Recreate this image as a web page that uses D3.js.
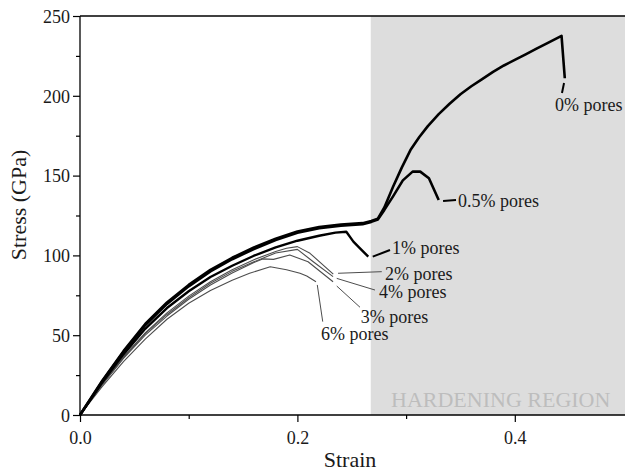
<!DOCTYPE html>
<html>
<head>
<meta charset="utf-8">
<script src="https://cdn.jsdelivr.net/npm/d3@7"></script>
<style>
  body { margin: 0; background: #fff; }
  text { font-family: "Liberation Serif", "DejaVu Serif", serif; fill: #1a1a1a; }
</style>
</head>
<body>
<div id="canvas"></div>
<script>
// data (strain, stress in GPa)
var seriesNames = ["6% pores", "3% pores", "4% pores", "2% pores", "1% pores", "0.5% pores", "0% pores"];

var strain_0 = [0, 0.02, 0.04, 0.06, 0.08, 0.10, 0.12, 0.14, 0.16, 0.18, 0.20, 0.22, 0.24, 0.26, 0.268, 0.274, 0.28, 0.288, 0.296, 0.304, 0.312, 0.32, 0.33, 0.34, 0.35, 0.36, 0.37, 0.38, 0.39, 0.40, 0.41, 0.42, 0.43, 0.443, 0.446];
var stress_0 = [0, 21, 40, 57, 70.5, 81.5, 91, 98.5, 105, 110.5, 115, 117.8, 119.3, 120.2, 121.5, 123, 130, 143, 155, 166, 174, 181, 188.5, 195, 201, 206, 210.5, 215, 219, 222.5, 226, 229.5, 233, 237.5, 211];

var strain_05 = [0, 0.02, 0.04, 0.06, 0.08, 0.10, 0.12, 0.14, 0.16, 0.18, 0.20, 0.22, 0.24, 0.26, 0.268, 0.274, 0.28, 0.288, 0.297, 0.306, 0.313, 0.321, 0.330];
var stress_05 = [0, 20.6, 39.4, 56.2, 69.6, 80.6, 90, 97.6, 104, 109.6, 114.2, 117, 118.6, 119.6, 121, 122.5, 128.5, 137, 147, 152.5, 152.5, 148.3, 134.7];

var strain_1 = [0, 0.02, 0.04, 0.06, 0.08, 0.10, 0.12, 0.14, 0.16, 0.18, 0.20, 0.22, 0.235, 0.245, 0.2515, 0.2576, 0.2652];
var stress_1 = [0, 20, 38, 54, 67, 77.5, 86.5, 93.5, 99.8, 105, 109.2, 112.3, 114.3, 114.8, 108.6, 104.4, 99.2];

var strain_2 = [0, 0.02, 0.04, 0.06, 0.08, 0.10, 0.12, 0.14, 0.16, 0.18, 0.19, 0.20, 0.2116, 0.233];
var stress_2 = [0, 19, 36.5, 51.5, 64, 74.5, 83.5, 91, 97.3, 102.5, 104.5, 105.5, 101.3, 88.3];

var strain_3 = [0, 0.02, 0.04, 0.06, 0.08, 0.10, 0.12, 0.14, 0.16, 0.168, 0.178, 0.193, 0.2098, 0.2328];
var stress_3 = [0, 18.5, 35.5, 50, 62, 72.5, 81.5, 89, 95.5, 97.8, 97.5, 100.3, 96, 83.5];

var strain_4 = [0, 0.02, 0.04, 0.06, 0.08, 0.10, 0.12, 0.14, 0.16, 0.18, 0.20, 0.2146, 0.2328];
var stress_4 = [0, 18.8, 36, 51, 63, 73.5, 82.5, 90, 96, 101.5, 103.8, 96, 86.7];

var strain_6 = [0, 0.02, 0.04, 0.06, 0.08, 0.10, 0.12, 0.14, 0.156, 0.175, 0.19, 0.2024, 0.2086, 0.2171];
var stress_6 = [0, 17.5, 33.5, 47.5, 60, 70, 78, 84.5, 88.8, 92.9, 91, 88.8, 87.1, 83.5];

// label anchor (strain, stress) and leader line ends
var labelStrain = [0.2217, 0.2582, 0.275, 0.2806, 0.287, 0.3478, 0.437];
var labelStress = [47, 57.6, 73.3, 84.6, 100.9, 130.3, 190.5];
var leadFrom = [[0.2183, 81.5], [0.2362, 80.8], [0.2362, 85.6], [0.2374, 88.8], [0.2693, 99.2], [0.334, 134.1], [0.4453, 208]];
var leadTo = [[0.2233, 58.5], [0.2576, 67.5], [0.2714, 78.3], [0.2776, 89.8], [0.2852, 103.4], [0.3459, 134.7], [0.4434, 201.8]];

var hardeningStart = 0.2675;
var xTicks = [0, 0.1, 0.2, 0.3, 0.4];
var yTicks = [0, 25, 50, 75, 100, 125, 150, 175, 200, 225, 250];

var w = 625;
var h = 471;
var svg = d3.select("#canvas").append("svg").attr("width", w).attr("height", h);

var x = d3.scaleLinear().domain([0, 0.5]).range([80, 623.5]);
var y = d3.scaleLinear().domain([0, 250]).range([415, 16]);

var allStrain = [strain_6, strain_3, strain_4, strain_2, strain_1, strain_05, strain_0];
var allStress = [stress_6, stress_3, stress_4, stress_2, stress_1, stress_05, stress_0];
var thick = [false, false, false, false, true, true, true];

// hardening region
svg.append("rect")
    .attr("x", x(hardeningStart))
    .attr("y", y(250))
    .attr("width", w - x(hardeningStart))
    .attr("height", y(0) - y(250))
    .style("fill", "#dddddd");

svg.append("text")
    .attr("x", 391)
    .attr("y", 407)
    .style("font-size", "22px")
    .style("fill", "#bdbdbd")
    .text("HARDENING REGION");

// curves
var line = d3.line()
    .x(function(d) { return x(d[0]); })
    .y(function(d) { return y(d[1]); });

for (let i = 0; i < seriesNames.length; i++) {
  var pts = allStrain[i].map(function(s, j) { return [s, allStress[i][j]]; });
  svg.append("path")
      .attr("d", line(pts))
      .style("fill", "none")
      .style("stroke", thick[i] ? "#000" : "#4d4d4d")
      .style("stroke-width", thick[i] ? (i == 4 ? 2.4 : 2.6) : 1.1)
      .style("stroke-linejoin", "round");

  svg.append("line")
      .attr("x1", x(leadFrom[i][0])).attr("y1", y(leadFrom[i][1]))
      .attr("x2", x(leadTo[i][0])).attr("y2", y(leadTo[i][1]))
      .style("stroke", thick[i] ? "#000" : "#4d4d4d")
      .style("stroke-width", thick[i] ? 2 : 1);

  svg.append("text")
      .attr("x", x(labelStrain[i]))
      .attr("y", y(labelStress[i]))
      .style("font-size", "18px")
      .text(seriesNames[i]);
}

// axes
var xAxis = svg.append("g")
    .attr("transform", "translate(0," + y(0) + ")")
    .call(d3.axisBottom(x).tickValues(xTicks)
      .tickSize(0).tickPadding(0).tickFormat(""));
xAxis.select(".domain").remove();
xAxis.append("line").attr("x1", x(0)).attr("x2", w).style("stroke", "#000").style("stroke-width", 1.3);
xAxis.selectAll(".tick").append("line")
    .attr("y2", function(d, i) { return i % 2 == 0 ? 7 : 4; })
    .style("stroke", "#000").style("stroke-width", 1.2);
xAxis.selectAll(".tick").filter(function(d, i) { return i % 2 == 0; })
    .append("text")
    .attr("y", 29)
    .attr("text-anchor", "middle")
    .style("font-size", "18px")
    .text(d3.format(".1f"));

var yAxis = svg.append("g")
    .attr("transform", "translate(" + x(0) + ",0)")
    .call(d3.axisLeft(y).tickValues(yTicks)
      .tickSize(0).tickPadding(0).tickFormat(""));
yAxis.select(".domain").remove();
yAxis.append("line").attr("y1", y(0)).attr("y2", y(250)).style("stroke", "#000").style("stroke-width", 1.3);
yAxis.selectAll(".tick").append("line")
    .attr("x2", function(d, i) { return i % 2 == 0 ? -7 : -4; })
    .style("stroke", "#000").style("stroke-width", 1.2);
yAxis.selectAll(".tick").filter(function(d, i) { return i % 2 == 0; })
    .append("text")
    .attr("x", -10)
    .attr("dy", "0.35em")
    .attr("text-anchor", "end")
    .style("font-size", "18px")
    .text(function(d) { return d; });

// top frame line
svg.append("line")
    .attr("x1", x(0)).attr("x2", w)
    .attr("y1", y(250)).attr("y2", y(250))
    .style("stroke", "#000").style("stroke-width", 1.3);

// axis titles
svg.append("text")
    .attr("x", 350)
    .attr("y", 467)
    .attr("text-anchor", "middle")
    .style("font-size", "22px")
    .text("Strain");

svg.append("text")
    .attr("transform", "translate(26," + 205 + ") rotate(-90)")
    .attr("text-anchor", "middle")
    .style("font-size", "22px")
    .text("Stress (GPa)");
</script>
</body>
</html>
